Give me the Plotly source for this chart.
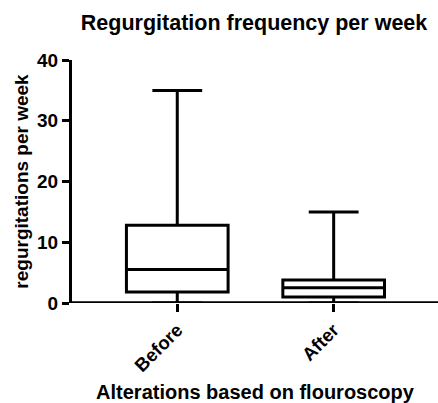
import plotly.graph_objects as go

# Summary statistics per group (regurgitations per week)
groups = ["Before", "After"]
minimum = [0, 0]
q1 = [1.8, 1.0]
median = [5.5, 2.5]
q3 = [12.8, 3.8]
maximum = [35, 15]

y_ticks = [0, 10, 20, 30, 40]

FONT = "Liberation Sans, Arial, sans-serif"

fig = go.Figure()
for i, name in enumerate(groups):
    fig.add_trace(go.Box(
        x=[i],
        q1=[q1[i]],
        median=[median[i]],
        q3=[q3[i]],
        lowerfence=[minimum[i]],
        upperfence=[maximum[i]],
        name=name,
        width=0.65,
        whiskerwidth=0.49,
        fillcolor="white",
        line=dict(color="black", width=3),
        boxpoints=False,
        hoverinfo="skip",
    ))

# baseline drawn over the plot edge at y = 0
fig.add_shape(type="line", xref="paper", yref="y", x0=-0.004, x1=1, y0=0, y1=0,
              line=dict(color="black", width=3.5), layer="above")

fig.update_layout(
    width=438,
    height=403,
    margin=dict(l=72, r=0, t=60, b=100),
    paper_bgcolor="white",
    plot_bgcolor="white",
    showlegend=False,
    font=dict(family=FONT, color="black"),
    title=dict(
        text="<b>Regurgitation frequency per week</b>",
        x=0.58, xanchor="center",
        y=0.945, yanchor="middle",
        font=dict(size=21.5, family=FONT, color="black"),
    ),
    xaxis=dict(
        range=[-0.673, 1.667],
        tickvals=[0, 1],
        ticktext=["<b>%s</b>" % g for g in groups],
        tickangle=-45,
        tickfont=dict(size=18.5, family=FONT, color="black"),
        ticks="outside", ticklen=8, tickwidth=3, tickcolor="black",
        showline=False,
        showgrid=False, zeroline=False,
        automargin=False,
        title=dict(text="<b>Alterations based on flouroscopy</b>",
                   font=dict(size=20, family=FONT, color="black"),
                   standoff=18),
    ),
    yaxis=dict(
        range=[0, 40],
        tickvals=y_ticks,
        ticktext=["<b>%d</b>" % t for t in y_ticks],
        tickfont=dict(size=19, family=FONT, color="black"),
        ticks="outside", ticklen=7, tickwidth=3, tickcolor="black",
        showline=True, linecolor="black", linewidth=3,
        showgrid=False, zeroline=False,
        automargin=False,
        title=dict(text="<b>regurgitations per week</b>",
                   font=dict(size=19, family=FONT, color="black"),
                   standoff=4),
    ),
)

fig.write_html("out.html")
